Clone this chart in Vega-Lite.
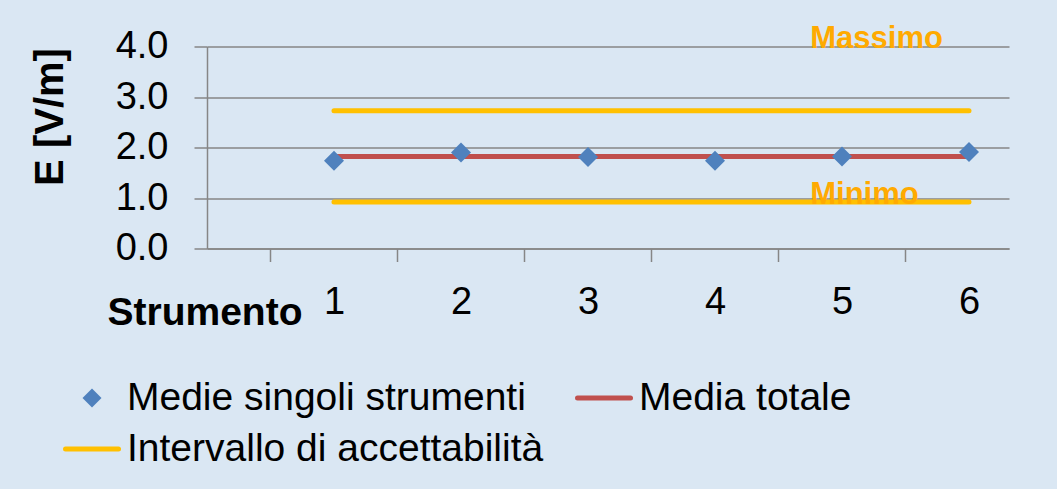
{
  "$schema": "https://vega.github.io/schema/vega-lite/v6.json",
  "width": 802,
  "height": 202,
  "autosize": {"type": "none"},
  "padding": {"left": 207, "top": 46.5, "right": 48, "bottom": 240.5},
  "background": "#DAE7F3",
  "config": {
    "view": {"stroke": null},
    "font": "Liberation Sans, Arial, sans-serif"
  },
  "data": {
    "values": [
      {"serie": "Medie singoli strumenti", "strumento": 1, "E": 1.74},
      {"serie": "Medie singoli strumenti", "strumento": 2, "E": 1.90},
      {"serie": "Medie singoli strumenti", "strumento": 3, "E": 1.81},
      {"serie": "Medie singoli strumenti", "strumento": 4, "E": 1.74},
      {"serie": "Medie singoli strumenti", "strumento": 5, "E": 1.82},
      {"serie": "Medie singoli strumenti", "strumento": 6, "E": 1.91},
      {"serie": "Media totale", "strumento": 1, "E": 1.82},
      {"serie": "Media totale", "strumento": 6, "E": 1.82},
      {"serie": "Intervallo di accettabilità", "limite": "max", "strumento": 1, "E": 2.73},
      {"serie": "Intervallo di accettabilità", "limite": "max", "strumento": 6, "E": 2.73},
      {"serie": "Intervallo di accettabilità", "limite": "min", "strumento": 1, "E": 0.92},
      {"serie": "Intervallo di accettabilità", "limite": "min", "strumento": 6, "E": 0.92},
      {"etichetta": "Massimo", "strumento": 4.75, "E": 3.97},
      {"etichetta": "Minimo", "strumento": 4.75, "E": 0.885}
    ]
  },
  "encoding": {
    "x": {
      "field": "strumento",
      "type": "quantitative",
      "scale": {"domain": [0, 6.315], "nice": false, "zero": false},
      "axis": {
        "title": "Strumento",
        "titleFontSize": 39,
        "titleFontWeight": "bold",
        "titleColor": "#000000",
        "titleX": -2.5,
        "titleY": 76,
        "titleAlign": "center",
        "titleBaseline": "alphabetic",
        "values": [0.5, 1, 1.5, 2, 2.5, 3, 3.5, 4, 4.5, 5, 5.5, 6],
        "labelExpr": "datum.value % 1 === 0 ? format(datum.value, 'd') : ''",
        "labelFontSize": 38,
        "labelColor": "#000000",
        "labelBaseline": "alphabetic",
        "labelPadding": 52,
        "labelFlush": false,
        "labelOverlap": false,
        "grid": false,
        "domainColor": "#868686",
        "domainWidth": 1.5,
        "tickColor": "#868686",
        "tickWidth": 1.5,
        "tickSize": 13,
        "tickOpacity": {"condition": {"test": "datum.value % 1 === 0", "value": 0}, "value": 1}
      }
    },
    "y": {
      "field": "E",
      "type": "quantitative",
      "scale": {"domain": [0, 4], "nice": false},
      "axis": {
        "title": "E [V/m]",
        "titleFontSize": 40,
        "titleFontWeight": "bold",
        "titleColor": "#000000",
        "titleAngle": -90,
        "titleX": -145,
        "titleY": 70,
        "titleAlign": "center",
        "titleBaseline": "alphabetic",
        "values": [0, 1, 2, 3, 4],
        "format": ".1f",
        "labelFontSize": 38,
        "labelColor": "#000000",
        "labelPadding": 26,
        "labelFlush": false,
        "labelOverlap": false,
        "grid": true,
        "gridColor": "#868686",
        "gridWidth": 1.5,
        "domainColor": "#868686",
        "domainWidth": 1.5,
        "tickColor": "#868686",
        "tickWidth": 1.5,
        "tickSize": 13
      }
    }
  },
  "layer": [
    {
      "transform": [{"filter": "datum.serie && datum.serie !== 'Medie singoli strumenti'"}],
      "mark": {"type": "line", "strokeWidth": 5, "strokeCap": "round"},
      "encoding": {
        "detail": {"field": "limite"},
        "color": {
          "field": "serie",
          "type": "nominal",
          "scale": {
            "domain": ["Medie singoli strumenti", "Media totale", "Intervallo di accettabilità"],
            "range": ["#4F81BD", "#C0504D", "#FFC000"]
          },
          "legend": {
            "title": null,
            "orient": "none",
            "direction": "horizontal",
            "legendX": -145,
            "legendY": 326,
            "columns": 2,
            "columnPadding": 30,
            "rowPadding": 0,
            "padding": 0,
            "clipHeight": 51,
            "labelFontSize": 39,
            "labelColor": "#000000",
            "labelOffset": 15.5,
            "labelLimit": 700,
            "symbolOffset": 10.5,
            "symbolSize": 2809,
            "symbolStrokeWidth": 5,
            "encode": {
              "symbols": {
                "update": {
                  "shape": {"signal": "datum.value === 'Medie singoli strumenti' ? 'diamond' : 'stroke'"},
                  "size": {"signal": "datum.value === 'Medie singoli strumenti' ? 361 : 2809"},
                  "fill": {"scale": "color", "field": "value"},
                  "stroke": {"scale": "color", "field": "value"},
                  "strokeWidth": {"signal": "datum.value === 'Medie singoli strumenti' ? 0 : 5"},
                  "strokeCap": {"value": "round"},
                  "opacity": {"value": 1}
                }
              }
            }
          }
        }
      }
    },
    {
      "transform": [{"filter": "datum.serie === 'Medie singoli strumenti'"}],
      "mark": {"type": "point", "shape": "diamond", "filled": true, "size": 400, "opacity": 1},
      "encoding": {
        "color": {"field": "serie", "type": "nominal"}
      }
    },
    {
      "transform": [{"filter": "datum.etichetta"}],
      "mark": {
        "type": "text",
        "align": "left",
        "baseline": "alphabetic",
        "fontSize": 31,
        "fontWeight": "bold",
        "color": "#FFAA00"
      },
      "encoding": {
        "text": {"field": "etichetta"}
      }
    }
  ]
}
